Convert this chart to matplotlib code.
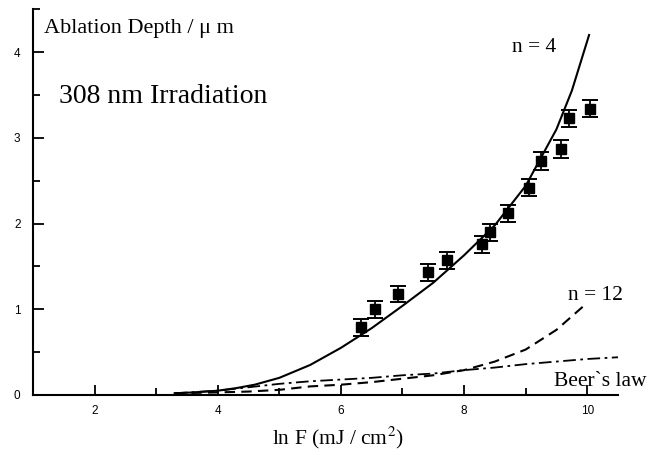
import matplotlib
matplotlib.use("Agg")
import matplotlib.pyplot as plt
from matplotlib.ticker import MultipleLocator

# Measured ablation depths (µm) versus ln F
meas_lnF = [6.33, 6.55, 6.92, 7.42, 7.72, 8.29, 8.42, 8.72, 9.06, 9.25, 9.57, 9.71, 10.05]
meas_depth = [0.79, 1.00, 1.18, 1.43, 1.57, 1.76, 1.90, 2.12, 2.42, 2.73, 2.87, 3.23, 3.34]
meas_err = [0.10, 0.10, 0.09, 0.10, 0.10, 0.10, 0.10, 0.10, 0.10, 0.10, 0.10, 0.10, 0.10]

# Model curve, n = 4
n4_lnF = [3.3, 3.6, 4.0, 4.3, 4.6, 5.0, 5.5, 6.0, 6.5, 7.0, 7.5, 8.0, 8.5, 9.0, 9.25, 9.5, 9.75, 10.03]
n4_depth = [0.02, 0.03, 0.05, 0.08, 0.12, 0.20, 0.35, 0.55, 0.78, 1.04, 1.31, 1.63, 1.98, 2.44, 2.77, 3.10, 3.55, 4.20]

# Model curve, n = 12
n12_lnF = [3.3, 4.0, 4.5, 5.0, 5.5, 6.0, 6.5, 7.0, 7.5, 8.0, 8.5, 9.0, 9.5, 9.96]
n12_depth = [0.02, 0.03, 0.04, 0.06, 0.10, 0.12, 0.15, 0.19, 0.23, 0.29, 0.39, 0.53, 0.76, 1.05]

# Beer's law curve
beer_lnF = [3.3, 4.0, 4.5, 5.0, 5.5, 6.0, 6.5, 7.0, 7.5, 8.0, 8.5, 9.0, 9.5, 10.0, 10.5]
beer_depth = [0.02, 0.05, 0.09, 0.13, 0.16, 0.18, 0.20, 0.23, 0.25, 0.29, 0.32, 0.36, 0.39, 0.42, 0.44]

x_ticks = [2, 4, 6, 8, 10]
y_ticks = [0, 1, 2, 3, 4]

serif = ["Liberation Serif", "DejaVu Serif"]
sans = ["Liberation Sans", "DejaVu Sans"]

fig = plt.figure(figsize=(6.52, 4.55), dpi=100)
ax = fig.add_axes([0.0506, 0.1319, 0.8973, 0.8477])

ax.plot(n4_lnF, n4_depth, color="black", lw=1.5, solid_joinstyle="miter")
ax.plot(n12_lnF, n12_depth, color="black", lw=1.5, dashes=(5, 3))
ax.plot(beer_lnF, beer_depth, color="black", lw=1.3, dashes=(7, 2.5, 1.5, 2.5))

ax.errorbar(meas_lnF, meas_depth, yerr=meas_err, fmt="s", color="black",
            ms=6.5, elinewidth=1.3, capsize=5.5, capthick=1.4)

ax.set_xlim(1, 10.5)
ax.set_ylim(0, 4.5)
ax.set_xticks(x_ticks)
ax.set_yticks(y_ticks)
ax.xaxis.set_minor_locator(MultipleLocator(1))
ax.yaxis.set_minor_locator(MultipleLocator(0.5))

for side in ("top", "right"):
    ax.spines[side].set_visible(False)
for side in ("left", "bottom"):
    ax.spines[side].set_linewidth(1.5)

ax.tick_params(which="both", direction="in", width=1.3)
ax.tick_params(axis="x", which="major", length=7, pad=7.5)
ax.tick_params(axis="x", which="minor", length=5)
ax.tick_params(axis="y", which="major", length=8, pad=9)
ax.tick_params(axis="y", which="minor", length=5)
for lab in ax.get_xticklabels() + ax.get_yticklabels():
    lab.set_fontfamily(sans)
    lab.set_fontsize(8.5)

xlab = fig.text(0.518, 0.024, "ln F (mJ / cm$^2$)", fontfamily=serif, fontsize=15.5,
                ha="center", va="baseline")
xlab.set_math_fontfamily("stix")

ax.text(1.18, 4.22, "Ablation Depth / \u03bc m", fontfamily=serif, fontsize=16,
        ha="left", va="baseline")
ax.text(1.42, 3.41, "308 nm Irradiation", fontfamily=serif, fontsize=20,
        ha="left", va="baseline")
ax.text(8.78, 4.0, "n = 4", fontfamily=serif, fontsize=15.5, ha="left", va="baseline")
ax.text(9.69, 1.11, "n = 12", fontfamily=serif, fontsize=15.5, ha="left", va="baseline")
ax.text(9.46, 0.105, "Beer`s law", fontfamily=serif, fontsize=15.5, ha="left", va="baseline")

fig.savefig("out.png", dpi=100)
